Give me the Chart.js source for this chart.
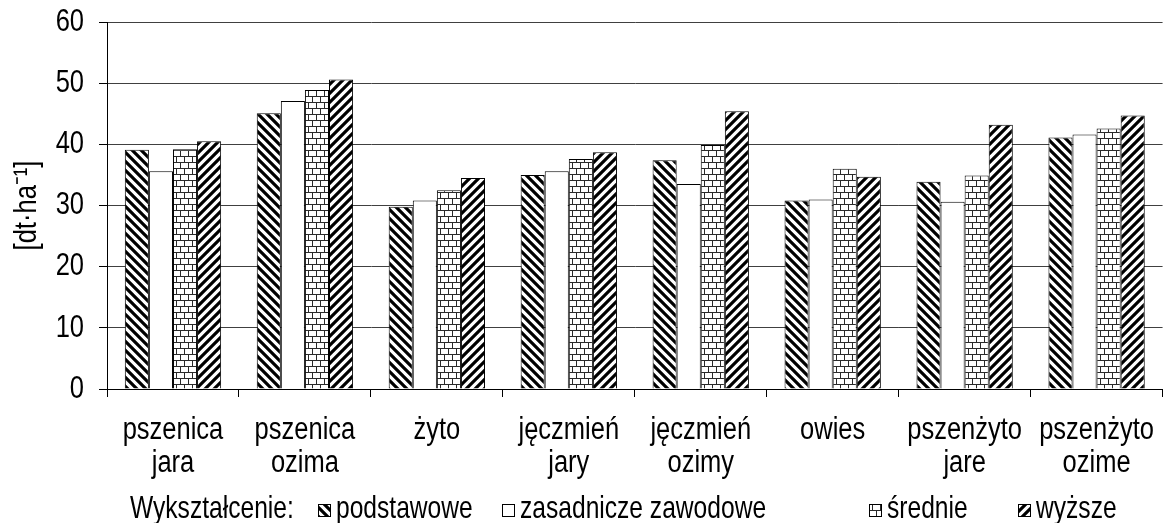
<!DOCTYPE html>
<html>
<head>
<meta charset="utf-8">
<script src="https://cdn.jsdelivr.net/npm/chart.js@4.4.1/dist/chart.umd.min.js"></script>
<style>
  html, body { margin: 0; padding: 0; background: #fff; }
  #wrap { width: 1171px; height: 523px; position: relative; }
</style>
</head>
<body>
<div id="wrap"><canvas id="c"></canvas></div>
<script>
// Crop categories (multi-line labels)
const categories = [
  ['pszenica', 'jara'],
  ['pszenica', 'ozima'],
  'żyto',
  ['jęczmień', 'jary'],
  ['jęczmień', 'ozimy'],
  'owies',
  ['pszenżyto', 'jare'],
  ['pszenżyto', 'ozime']
];

// Yields [dt·ha⁻¹] by farmer education level
const podstawowe = [39.1, 45.1, 29.8, 35.0, 37.4, 30.8, 33.9, 41.1];
const zasadniczeZawodowe = [35.6, 47.1, 30.8, 35.6, 33.5, 31.0, 30.6, 41.6];
const srednie = [39.2, 48.9, 32.5, 37.6, 39.9, 36.0, 34.9, 42.6];
const wyzsze = [40.5, 50.6, 34.5, 38.7, 45.4, 34.7, 43.2, 44.7];

const seriesNames = ['podstawowe', 'zasadnicze zawodowe', 'średnie', 'wyższe'];
const legendTitle = 'Wykształcenie:';
const axisTitle = '[dt·ha⁻¹]';
const yMin = 0, yMax = 60, yStep = 10;

const FAMILY = '"Liberation Sans", Arial, sans-serif';
const FONT_SIZE = 25.5;
const LEGEND_FONT_SIZE = 24.6;
const TEXT_STRETCH = 1.25; // tall, condensed-looking lettering

// Fill patterns
function stripePattern(forward) {
  const s = 9;
  const c = document.createElement('canvas');
  c.width = s; c.height = s;
  const g = c.getContext('2d');
  g.fillStyle = '#fff';
  g.fillRect(0, 0, s, s);
  g.strokeStyle = '#000';
  g.lineWidth = 3.2;
  g.beginPath();
  for (let k = -1; k <= 2; k++) {
    if (forward) {
      g.moveTo(-s, s + k * s);
      g.lineTo(2 * s, -2 * s + k * s);
    } else {
      g.moveTo(-s, -s + k * s);
      g.lineTo(2 * s, 2 * s + k * s);
    }
  }
  g.stroke();
  return g.createPattern(c, 'repeat');
}

function brickPattern() {
  const w = 8, h = 12;
  const c = document.createElement('canvas');
  c.width = w; c.height = h;
  const g = c.getContext('2d');
  g.fillStyle = '#fff';
  g.fillRect(0, 0, w, h);
  g.fillStyle = '#2a2a2a';
  g.fillRect(0, 0, w, 1);
  g.fillRect(0, 6, w, 1);
  g.fillRect(0, 0, 1, 6);
  g.fillRect(4, 6, 1, 6);
  return g.createPattern(c, 'repeat');
}

const fills = [stripePattern(false), '#ffffff', brickPattern(), stripePattern(true)];
const seriesValues = [podstawowe, zasadniczeZawodowe, srednie, wyzsze];

// Draw every text run vertically stretched about its anchor point
const tallText = {
  id: 'tallText',
  beforeDraw(chart, args, opts) {
    const ctx = chart.ctx;
    if (ctx.__tall) return;
    const orig = ctx.fillText;
    ctx.fillText = function (text, x, y, maxWidth) {
      this.save();
      this.translate(x, y);
      this.scale(1, opts.stretch);
      if (maxWidth === undefined) orig.call(this, text, 0, 0);
      else orig.call(this, text, 0, 0, maxWidth);
      this.restore();
    };
    ctx.__tall = true;
  }
};

// Legend drawn inline along the bottom edge, preceded by its title
const inlineLegend = {
  id: 'inlineLegend',
  afterDraw(chart, args, opts) {
    const ctx = chart.ctx;
    ctx.save();
    ctx.font = opts.font;
    ctx.textBaseline = 'alphabetic';
    ctx.textAlign = 'left';
    const y = opts.y;
    const b = opts.box;
    ctx.fillStyle = '#000';
    ctx.fillText(opts.title, opts.x, y);
    chart.data.datasets.forEach((ds, i) => {
      const x = opts.itemX[i];
      ctx.fillStyle = ds.backgroundColor;
      ctx.fillRect(x, y - b - opts.boxLift, b, b);
      ctx.strokeStyle = '#000';
      ctx.lineWidth = 1;
      ctx.strokeRect(x + 0.5, y - b - opts.boxLift + 0.5, b - 1, b - 1);
      ctx.fillStyle = '#000';
      ctx.fillText(ds.label, x + b + opts.boxGap, y);
    });
    ctx.restore();
  }
};

const fontSpec = { family: FAMILY, size: FONT_SIZE };

new Chart(document.getElementById('c'), {
  type: 'bar',
  data: {
    labels: categories,
    datasets: seriesNames.map((name, i) => ({
      label: name,
      data: seriesValues[i],
      backgroundColor: fills[i],
      borderColor: '#000',
      borderWidth: 1,
      categoryPercentage: 0.73,
      barPercentage: 1.0
    }))
  },
  options: {
    responsive: true,
    maintainAspectRatio: false,
    animation: false,
    layout: { padding: { left: 0, right: 0, top: 22, bottom: 43 } },
    plugins: {
      legend: { display: false },
      tooltip: { enabled: false },
      tallText: { stretch: TEXT_STRETCH },
      inlineLegend: {
        font: LEGEND_FONT_SIZE + 'px ' + FAMILY,
        title: legendTitle,
        x: 130,
        y: 518,
        itemX: [318, 502, 869, 1018],
        box: 13,
        boxLift: 1,
        boxGap: 5
      }
    },
    scales: {
      x: {
        afterFit(scale) { scale.height = 91; },
        grid: {
          display: true,
          drawOnChartArea: false,
          drawTicks: true,
          tickLength: 8,
          color: '#000',
          offset: true
        },
        border: { display: true, color: '#000', width: 1 },
        ticks: {
          color: '#000',
          font: Object.assign({ lineHeight: 1.28 }, fontSpec),
          padding: 17,
          maxRotation: 0,
          autoSkip: false
        }
      },
      y: {
        min: yMin,
        max: yMax,
        afterFit(scale) {
          scale.width = 107;
          scale.paddingTop = 0;
          scale.paddingBottom = 0;
        },
        grid: {
          color: '#404040',
          lineWidth: 1,
          drawTicks: true,
          tickLength: 8,
          tickColor: '#000'
        },
        border: { display: true, color: '#000', width: 1 },
        ticks: {
          stepSize: yStep,
          color: '#000',
          font: fontSpec,
          padding: 15
        },
        title: {
          display: true,
          text: axisTitle,
          color: '#000',
          font: fontSpec,
          padding: { top: 12, bottom: 0 }
        }
      }
    }
  },
  plugins: [tallText, inlineLegend]
});
</script>
</body>
</html>
